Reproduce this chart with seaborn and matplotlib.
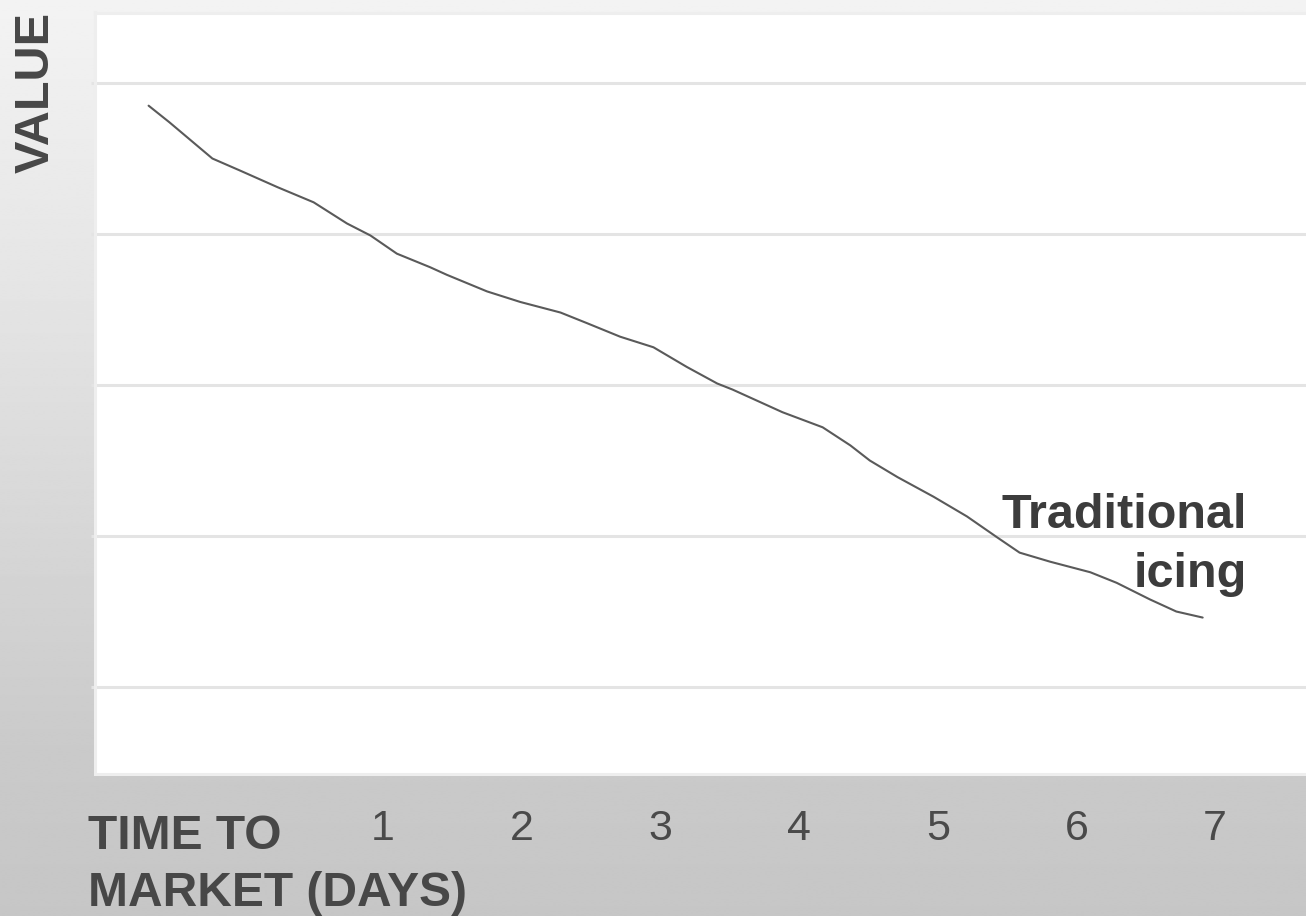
import numpy as np
import pandas as pd
import matplotlib
matplotlib.use("Agg")
import matplotlib.pyplot as plt
import seaborn as sns

# Value of iced product over time to market (arbitrary units)
days = [-0.69, -0.54, -0.23, -0.03, 0.24, 0.50, 0.74, 0.91, 1.10, 1.34, 1.46,
        1.75, 1.99, 2.28, 2.47, 2.71, 2.95, 3.19, 3.41, 3.52, 3.88, 4.17,
        4.37, 4.51, 4.71, 4.97, 5.21, 5.43, 5.59, 5.81, 6.10, 6.29, 6.53,
        6.72, 6.91]
value = [4.85, 4.74, 4.50, 4.42, 4.31, 4.21, 4.07, 3.99, 3.87, 3.78, 3.73,
         3.62, 3.55, 3.48, 3.41, 3.32, 3.25, 3.12, 3.01, 2.97, 2.82, 2.72,
         2.60, 2.50, 2.39, 2.26, 2.13, 1.99, 1.89, 1.83, 1.76, 1.69, 1.58,
         1.50, 1.46]
day_ticks = [1, 2, 3, 4, 5, 6, 7]
grid_levels = [1, 2, 3, 4, 5]
series_label = "Traditional\nicing"
x_title = ["TIME TO", "MARKET (DAYS)"]
y_title = "VALUE"

df = pd.DataFrame({"day": days, "value": value})

sns.set_theme(style="white")
plt.rcParams["font.family"] = ["Liberation Sans", "DejaVu Sans"]

W, H = 1306, 916
fig = plt.figure(figsize=(W / 100, H / 100), dpi=100)

# Vertical grey gradient behind everything
bg = fig.add_axes([0, 0, 1, 1], zorder=-10)
ys = np.linspace(0, 1, 400)
shade = np.interp(ys, [0, 0.33, 0.65, 0.82, 1.0], [243, 228, 211, 202, 198]) / 255.0
grad = np.repeat(shade[:, None], 2, axis=1)
bg.imshow(grad, aspect="auto", cmap="gray", vmin=0, vmax=1,
          extent=[0, 1, 1, 0], interpolation="bilinear")
bg.set_axis_off()

left_px, top_px, bottom_px = 94.5, 12.5, 774
ax = fig.add_axes([left_px / W, 1 - bottom_px / H, 1 - left_px / W,
                   (bottom_px - top_px) / H])
ax.set_facecolor("white")

sns.lineplot(data=df, x="day", y="value", ax=ax, color="#5a5a5a",
             linewidth=1.5, sort=False)

ax.set_xlim(-1.080, 7.655)
ax.set_ylim(0.424, 5.467)

ax.set_yticks(grid_levels)
ax.set_yticklabels([])
ax.yaxis.grid(True, color="#e4e4e4", linewidth=2.2)
ax.xaxis.grid(False)
ax.set_axisbelow(True)
ax.tick_params(axis="y", which="major", length=3, width=2.2,
               color="#e4e4e4", left=True)

ax.set_xticks(day_ticks)
ax.set_xticklabels([str(d) for d in day_ticks])
ax.tick_params(axis="x", length=0, pad=25, labelsize=31,
               labelcolor="#4a4a4a")

ax.set_xlabel("")
ax.set_ylabel("")

for side in ["left", "top", "bottom"]:
    ax.spines[side].set_color("#eeeeee")
    ax.spines[side].set_linewidth(2.2)
ax.spines["right"].set_visible(False)

# Series label, right aligned next to the end of the line
ax.text(7.23, 1.66, series_label, ha="right", va="baseline", ma="right",
        fontsize=35, fontweight="bold", color="#3c3c3c", linespacing=1.42)

# Axis titles
fig.text(88 / W, 1 - 849 / H, x_title[0], ha="left", va="baseline",
         fontsize=34.5, fontweight="bold", color="#474747")
fig.text(88 / W, 1 - 906 / H, x_title[1], ha="left", va="baseline",
         fontsize=34.5, fontweight="bold", color="#474747")
fig.text(36 / W, 1 - 92 / H, y_title, ha="center", va="center", rotation=90,
         fontsize=35, fontweight="bold", color="#474747")

fig.savefig("out.png", dpi=100)
